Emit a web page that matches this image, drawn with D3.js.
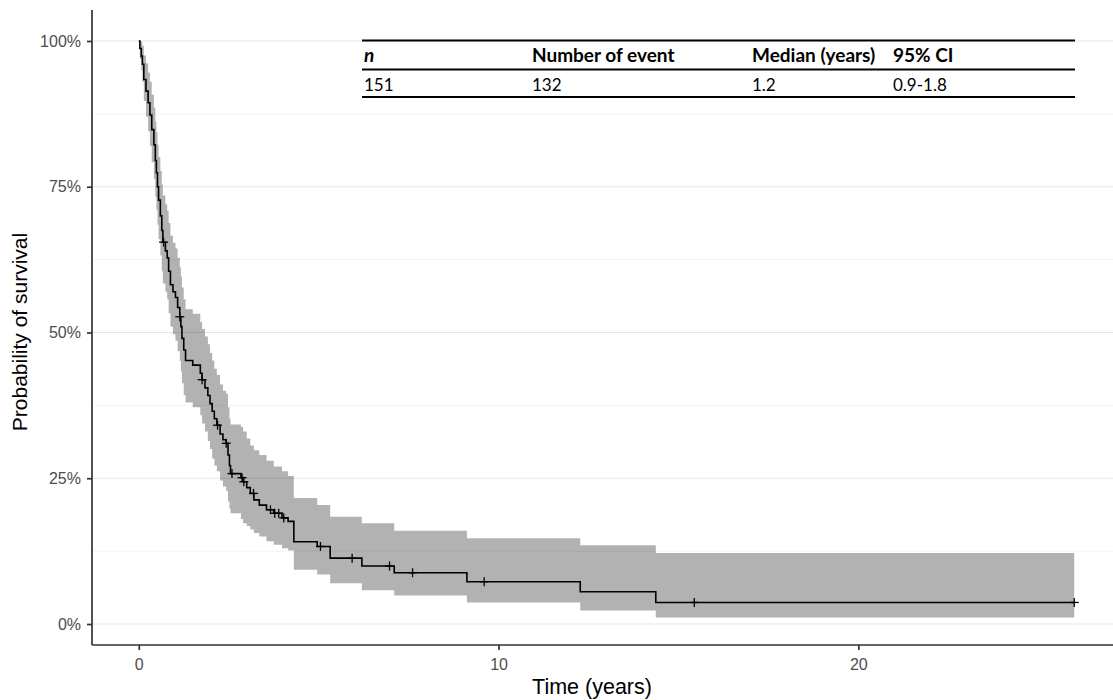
<!DOCTYPE html>
<html>
<head>
<meta charset="utf-8">
<script src="https://cdn.jsdelivr.net/npm/d3@7"></script>
<style>
  body { margin: 0; background: #fff; }
  svg { display: block; font-family: "Liberation Sans", Arial, sans-serif; }
</style>
</head>
<body>
<div id="visContainer"></div>
<script>
// Kaplan-Meier steps (time in years, probability)
const stepTimes = [0, 0.03, 0.07, 0.10, 0.14, 0.20, 0.26, 0.31, 0.36, 0.42, 0.46, 0.49, 0.52, 0.55, 0.60, 0.64, 0.67,
  0.74, 0.79, 0.83, 0.88, 0.95, 1.02, 1.08, 1.14, 1.17, 1.20, 1.25, 1.30, 1.50, 1.71, 1.76, 1.84, 1.92, 1.98, 2.04,
  2.10, 2.17, 2.26, 2.34, 2.43, 2.48, 2.52, 2.55, 2.84, 2.90, 3.00, 3.10, 3.20, 3.35, 3.55, 3.75, 3.98, 4.15, 4.31,
  4.96, 5.32, 6.20, 7.10, 9.12, 12.27, 14.37];
const survival = [1.000, 0.987, 0.974, 0.960, 0.934, 0.914, 0.894, 0.873, 0.848, 0.822, 0.795, 0.774, 0.750, 0.727,
  0.700, 0.675, 0.655, 0.640, 0.628, 0.605, 0.582, 0.570, 0.560, 0.543, 0.527, 0.510, 0.490, 0.470, 0.452, 0.444,
  0.430, 0.419, 0.405, 0.392, 0.378, 0.365, 0.352, 0.341, 0.326, 0.316, 0.310, 0.290, 0.272, 0.258, 0.251, 0.244,
  0.234, 0.224, 0.213, 0.204, 0.196, 0.190, 0.182, 0.176, 0.141, 0.133, 0.113, 0.0995, 0.088, 0.0726, 0.0554, 0.037];
const upperCI = [1.000, 1.000, 0.998, 0.992, 0.975, 0.962, 0.946, 0.930, 0.908, 0.886, 0.862, 0.843, 0.822, 0.801,
  0.777, 0.754, 0.735, 0.720, 0.709, 0.688, 0.666, 0.654, 0.644, 0.628, 0.612, 0.596, 0.577, 0.557, 0.540, 0.532,
  0.518, 0.506, 0.493, 0.480, 0.465, 0.452, 0.438, 0.427, 0.411, 0.400, 0.395, 0.372, 0.352, 0.342, 0.338, 0.330,
  0.318, 0.306, 0.298, 0.290, 0.280, 0.270, 0.262, 0.254, 0.216, 0.204, 0.184, 0.173, 0.160, 0.147, 0.135, 0.122];
const lowerCI = [1.000, 0.969, 0.950, 0.930, 0.897, 0.870, 0.845, 0.820, 0.792, 0.763, 0.733, 0.710, 0.685, 0.660,
  0.632, 0.605, 0.584, 0.570, 0.557, 0.533, 0.510, 0.497, 0.486, 0.468, 0.451, 0.433, 0.413, 0.393, 0.380, 0.372,
  0.358, 0.344, 0.330, 0.314, 0.300, 0.284, 0.272, 0.262, 0.246, 0.236, 0.228, 0.210, 0.198, 0.190, 0.180, 0.173,
  0.168, 0.162, 0.156, 0.150, 0.142, 0.136, 0.130, 0.126, 0.093, 0.085, 0.070, 0.058, 0.049, 0.037, 0.023, 0.011];
const lastTime = 26.0;
const censorTimes = [0.69, 1.14, 1.76, 2.19, 2.43, 2.59, 2.87, 2.92, 3.19, 3.66, 3.78, 3.89, 4.03, 5.05, 5.93,
  6.97, 7.61, 9.6, 15.44, 26.0];

const xTicks = [0, 10, 20];
const yTicks = [0, 0.25, 0.5, 0.75, 1];
const yMinorTicks = [0.125, 0.375, 0.625, 0.875];

const tableHeader = ["n", "Number of event", "Median (years)", "95% CI"];
const tableRow = ["151", "132", "1.2", "0.9-1.8"];

const width = 1113;
const height = 700;
const margin = { top: 20, right: -8, bottom: 55, left: 92 };

const svg = d3.select("#visContainer")
  .append("svg")
  .attr("width", width)
  .attr("height", height);

const xScale = d3.scaleLinear()
  .domain([-1.3, 27.3])
  .range([margin.left, width - margin.right]);

const yScale = d3.scaleLinear()
  .domain([-0.036, 1.036])
  .range([height - margin.bottom, margin.top]);

// gridlines (horizontal only)
svg.append("g")
  .selectAll("line")
  .data(yMinorTicks)
  .join("line")
  .attr("x1", margin.left)
  .attr("x2", width)
  .attr("y1", (d) => yScale(d))
  .attr("y2", (d) => yScale(d))
  .attr("stroke", "#f3f3f3")
  .attr("stroke-width", 1);

svg.append("g")
  .selectAll("line")
  .data(yTicks)
  .join("line")
  .attr("x1", margin.left)
  .attr("x2", width)
  .attr("y1", (d) => yScale(d))
  .attr("y2", (d) => yScale(d))
  .attr("stroke", "#e6e6e6")
  .attr("stroke-width", 1.1);

const km = stepTimes.map((t, i) => ({ t: t, s: survival[i], u: upperCI[i], l: lowerCI[i] }));
const lastRow = km[km.length - 1];
km.push({ t: lastTime, s: lastRow.s, u: lastRow.u, l: lastRow.l });

// confidence band
svg.append("path")
  .datum(km)
  .attr("d", d3.area()
    .curve(d3.curveStepAfter)
    .x((d) => xScale(d.t))
    .y0((d) => yScale(d.l))
    .y1((d) => yScale(d.u)))
  .attr("fill", "#000")
  .attr("fill-opacity", 0.3);

// survival curve
svg.append("path")
  .datum(km)
  .attr("d", d3.line()
    .curve(d3.curveStepAfter)
    .x((d) => xScale(d.t))
    .y((d) => yScale(d.s)))
  .attr("fill", "none")
  .attr("stroke", "#000")
  .attr("stroke-width", 1.6);

// censor marks
const survAt = (t) => survival[Math.max(0, d3.bisectRight(stepTimes, t) - 1)];
const marks = svg.append("g")
  .selectAll("g")
  .data(censorTimes)
  .join("g")
  .attr("transform", (d) => `translate(${xScale(d)},${yScale(survAt(d))})`);
marks.append("line").attr("x1", -4.5).attr("x2", 4.5).attr("y1", 0).attr("y2", 0);
marks.append("line").attr("x1", 0).attr("x2", 0).attr("y1", -4.5).attr("y2", 4.5);
marks.selectAll("line").attr("stroke", "#000").attr("stroke-width", 1.3);

// axes
const xAxis = svg.append("g")
  .attr("transform", `translate(0, ${height - margin.bottom})`)
  .call(d3.axisBottom(xScale).tickValues(xTicks).tickSize(5).tickPadding(9));

const yAxis = svg.append("g")
  .attr("transform", `translate(${margin.left}, 0)`)
  .call(d3.axisLeft(yScale).tickValues(yTicks).tickFormat(d3.format(".0%")).tickSize(5).tickPadding(6));

[xAxis, yAxis].forEach((ax) => {
  ax.select(".domain").attr("stroke", "#333").attr("stroke-width", 1.7);
  ax.selectAll(".tick line").attr("stroke", "#333").attr("stroke-width", 1.7);
  ax.selectAll(".tick text")
    .attr("fill", "#4d4d4d")
    .style("font-size", "16px")
    .style("font-family", "'Liberation Sans', Arial, sans-serif");
});
xAxis.select(".domain").attr("d", `M${margin.left},0H${width}`);
yAxis.select(".domain").attr("d", `M0,${margin.top - 10}V${height - margin.bottom}`);

// axis titles
svg.append("text")
  .attr("x", 592)
  .attr("y", 694)
  .attr("text-anchor", "middle")
  .style("font-size", "21.5px")
  .text("Time (years)");

svg.append("text")
  .attr("transform", `translate(27, 332) rotate(-90)`)
  .attr("text-anchor", "middle")
  .style("font-size", "21px")
  .text("Probability of survival");

// summary table
const colX = [364, 532, 752, 893];
const table = svg.append("g").style("font-family", "Lato, 'Open Sans', sans-serif");

[40.5, 69.5, 97].forEach((y) => {
  table.append("line")
    .attr("x1", 362).attr("x2", 1075)
    .attr("y1", y).attr("y2", y)
    .attr("stroke", "#000")
    .attr("stroke-width", 2);
});

table.selectAll("text.head")
  .data(tableHeader)
  .join("text")
  .attr("class", "head")
  .attr("x", (d, i) => colX[i])
  .attr("y", 62)
  .style("font-size", "19px")
  .style("font-weight", "bold")
  .style("font-style", (d, i) => (i === 0 ? "italic" : "normal"))
  .text((d) => d);

table.selectAll("text.row")
  .data(tableRow)
  .join("text")
  .attr("class", "row")
  .attr("x", (d, i) => colX[i])
  .attr("y", 91)
  .style("font-size", "17px")
  .text((d) => d);
</script>
</body>
</html>
